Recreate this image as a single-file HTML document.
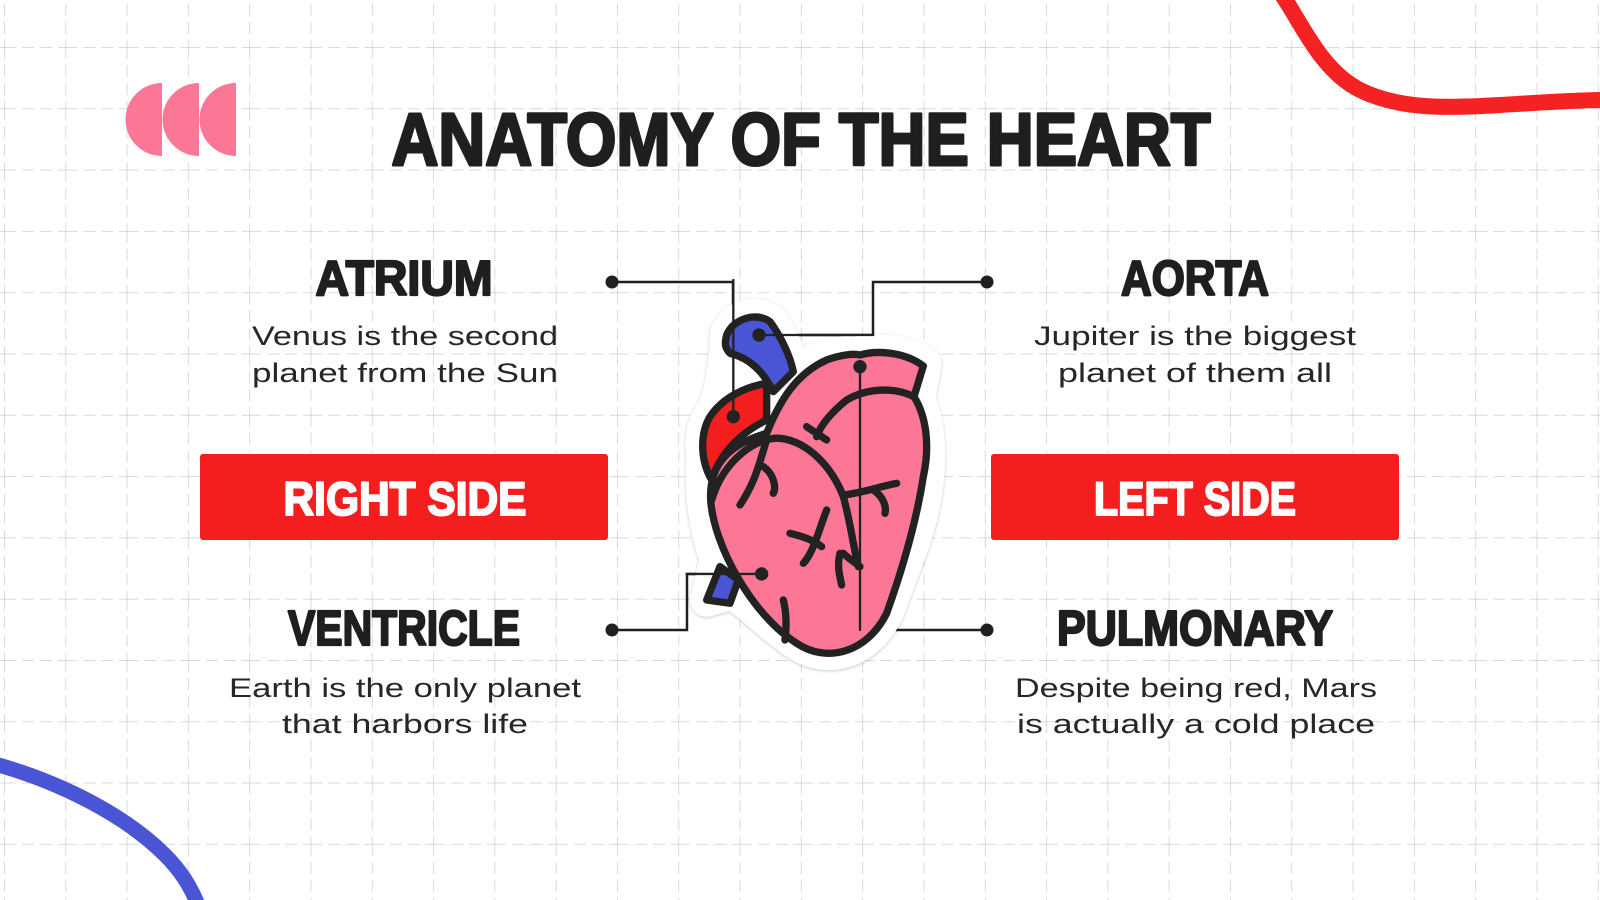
<!DOCTYPE html>
<html><head><meta charset="utf-8"><style>
html,body{margin:0;padding:0;background:#fff}
svg{display:block}
</style></head><body>
<svg width="1600" height="900" viewBox="0 0 1600 900" xmlns="http://www.w3.org/2000/svg">
<defs>
<pattern id="g" x="4" y="47" width="61.3" height="61.3" patternUnits="userSpaceOnUse">
<line x1="0" y1="0" x2="61.3" y2="0" stroke="#cfd6dc" stroke-width="1.8" stroke-dasharray="12 6"/>
<line x1="0" y1="0" x2="0" y2="61.3" stroke="#cfd6dc" stroke-width="1.8" stroke-dasharray="12 6"/>
</pattern>
<filter id="sh" x="-20%" y="-20%" width="140%" height="140%"><feDropShadow dx="0" dy="3" stdDeviation="5" flood-color="#000" flood-opacity="0.22"/></filter>
</defs>
<rect width="1600" height="900" fill="#fff"/>
<rect width="1600" height="900" fill="url(#g)"/>

<path d="M1282 -5 C1300 20,1320 70,1360 90 C1400 110,1450 108,1500 105 C1550 102,1580 100,1605 100" fill="none" stroke="#f42222" stroke-width="16"/>
<path d="M-5 764 C60 782,125 815,165 855 C180 870,190 885,198 905" fill="none" stroke="#4a55d6" stroke-width="15"/>

<g fill="#fc7796">
<path d="M162 83 A36.5 36.5 0 0 0 162 156 Z"/>
<path d="M199 83 A36.5 36.5 0 0 0 199 156 Z"/>
<path d="M236 83 A36.5 36.5 0 0 0 236 156 Z"/>
</g>

<g font-family="Liberation Sans, sans-serif" fill="#1f1f1f" stroke="#1f1f1f" stroke-linejoin="round">
<text x="801" y="165" font-size="74" font-weight="bold" stroke-width="3" text-anchor="middle" textLength="819" lengthAdjust="spacingAndGlyphs">ANATOMY OF THE HEART</text>
<g stroke-width="2.2" font-size="49" font-weight="bold" text-anchor="middle">
<text x="404" y="295" textLength="177" lengthAdjust="spacingAndGlyphs">ATRIUM</text>
<text x="1195" y="295" textLength="148" lengthAdjust="spacingAndGlyphs">AORTA</text>
<text x="404" y="645" textLength="232" lengthAdjust="spacingAndGlyphs">VENTRICLE</text>
<text x="1195" y="645" textLength="276" lengthAdjust="spacingAndGlyphs">PULMONARY</text>
</g>
<g font-size="27" text-anchor="middle" fill="#262626" stroke="none">
<text x="405" y="345" textLength="306" lengthAdjust="spacingAndGlyphs">Venus is the second</text>
<text x="405" y="382" textLength="306" lengthAdjust="spacingAndGlyphs">planet from the Sun</text>
<text x="1195" y="345" textLength="322" lengthAdjust="spacingAndGlyphs">Jupiter is the biggest</text>
<text x="1195" y="382" textLength="274" lengthAdjust="spacingAndGlyphs">planet of them all</text>
<text x="405" y="697" textLength="352" lengthAdjust="spacingAndGlyphs">Earth is the only planet</text>
<text x="405" y="733" textLength="246" lengthAdjust="spacingAndGlyphs">that harbors life</text>
<text x="1196" y="697" textLength="362" lengthAdjust="spacingAndGlyphs">Despite being red, Mars</text>
<text x="1196" y="733" textLength="358" lengthAdjust="spacingAndGlyphs">is actually a cold place</text>
</g>
</g>

<rect x="200" y="454" width="408" height="86" rx="3" fill="#f41e1e"/>
<rect x="991" y="454" width="408" height="86" rx="3" fill="#f41e1e"/>
<g font-family="Liberation Sans, sans-serif" font-weight="bold" fill="#fff" stroke="#fff" stroke-width="2" stroke-linejoin="round" font-size="47" text-anchor="middle">
<text x="405" y="515" textLength="243" lengthAdjust="spacingAndGlyphs">RIGHT SIDE</text>
<text x="1195" y="515" textLength="202" lengthAdjust="spacingAndGlyphs">LEFT SIDE</text>
</g>

<!-- connectors -->
<g fill="none" stroke="#1f1f1f" stroke-width="2.5">
<polyline points="612,282 733,282 733,417"/>
<polyline points="987,282 873,282 873,335 758,335"/>
<polyline points="612,630 687,630 687,574 762,574"/>
<polyline points="987,630 862,630 862,367"/>
</g>
<g fill="#1f1f1f">
<circle cx="612" cy="282" r="6.5"/><circle cx="987" cy="282" r="6.5"/>
<circle cx="612" cy="630" r="6.5"/><circle cx="987" cy="630" r="6.5"/>
</g>

<!-- heart -->
<g transform="translate(640,260) scale(0.3333)" stroke-linecap="round" stroke-linejoin="round">
<g filter="url(#sh)" fill="#fff" stroke="#fff" stroke-width="100">
<path d="M260 220 C280 170,350 150,390 180 C420 220,450 280,460 330 L470 330 C560 280,610 275,640 280 C720 265,800 275,855 310 L835 420 C880 520,880 700,800 900 L740 1060 C680 1180,560 1210,470 1150 C380 1090,300 1000,270 1000 L200 1020 L230 900 C200 820,180 700,190 600 C180 540,190 490,215 460 C240 420,260 300,260 220 Z"/>
</g>
<g stroke="#222" stroke-width="22">
<path d="M240 920 L295 960 L270 1030 L200 1020 Z" fill="#4a55d6"/>
<path d="M210 470 C250 410,320 380,380 370 L380 480 C300 520,240 580,215 660 C180 600,180 520,210 470 Z" fill="#f41e1e"/>
<path d="M260 225 C280 175,350 155,390 185 C420 225,450 285,460 335 L400 395 C370 335,330 295,270 280 C252 262,255 245,260 225 Z" fill="#4a55d6"/>
<path d="M380 520 C420 420,470 340,560 300 C600 285,640 280,660 285 C720 268,800 280,850 318 L822 410 C860 470,870 560,850 650 C830 780,790 920,740 1060 C680 1180,560 1210,470 1150 C330 1060,220 850,212 720 C208 640,240 560,380 520 Z" fill="#fc7796"/>
<path d="M822 410 C760 380,680 385,620 420 C570 460,540 500,530 530" fill="none"/>
<path d="M500 500 L560 540" fill="none"/>
<path d="M215 720 C250 600,350 530,420 535 C510 545,580 630,610 710 C630 780,640 860,655 920" fill="none"/>
<path d="M380 540 C360 600,350 660,300 735" fill="none"/>
<path d="M370 620 C400 640,410 680,400 700" fill="none"/>
<path d="M610 705 C660 700,720 680,770 670" fill="none"/>
<path d="M700 690 C730 710,740 740,735 760" fill="none"/>
<path d="M560 750 C540 800,520 880,490 910" fill="none"/>
<path d="M450 820 C490 830,520 840,545 860" fill="none"/>
<path d="M600 880 C590 920,600 950,605 975" fill="none"/>
<path d="M610 880 C630 900,650 910,660 920" fill="none"/>
<path d="M430 1020 C440 1060,440 1100,435 1140" fill="none"/>
</g>
<path d="M660 320 L660 1110" stroke="#222" stroke-width="7" fill="none"/>
<circle cx="660" cy="320" r="20" fill="#222"/>
<circle cx="357" cy="225" r="20" fill="#222"/>
<circle cx="280" cy="470" r="20" fill="#222"/>
<circle cx="365" cy="942" r="20" fill="#222"/>
<path d="M280 60 L280 470" stroke="#222" stroke-width="7"/>
<path d="M357 225 L700 225" stroke="#222" stroke-width="7"/>
<path d="M365 942 L140 942" stroke="#222" stroke-width="7"/>
</g>
</svg>
</body></html>
